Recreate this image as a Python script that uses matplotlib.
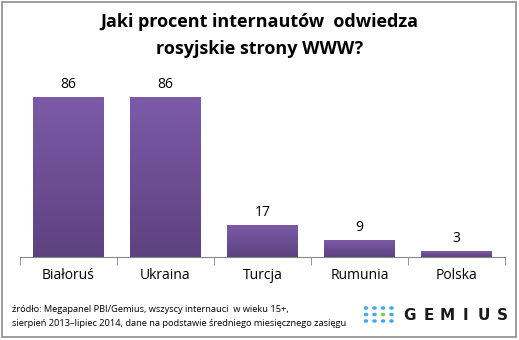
import numpy as np
import matplotlib
matplotlib.use("Agg")
import matplotlib.pyplot as plt
from matplotlib.patches import Rectangle

countries = ["Białoruś", "Ukraina", "Turcja", "Rumunia", "Polska"]
values = [86, 86, 17, 9, 3]

W, H = 519, 340
fig = plt.figure(figsize=(W / 100, H / 100), dpi=100)
plt.rcParams['font.family'] = ['Open Sans', 'DejaVu Sans']

# outer frame
fig.patches.append(Rectangle((2 / W, 3 / H), 514 / W, 335 / H, transform=fig.transFigure,
                             fill=False, edgecolor="#8c8c8c", linewidth=1.2))

ax = fig.add_axes([20 / W, (H - 257) / H, 485 / W, 185 / H])
x = np.arange(len(countries))
bw = 0.73
grad = np.linspace(0, 1, 256).reshape(-1, 1)
cmap = matplotlib.colors.LinearSegmentedColormap.from_list("bar", ["#5d427f", "#7c5aa8"])
for xi, v in zip(x, values):
    bar = ax.bar(xi, v, width=bw, color="none", edgecolor="none")[0]
    ax.imshow(grad, extent=(xi - bw / 2, xi + bw / 2, 0, v), origin="lower",
              cmap=cmap, aspect="auto", zorder=2)
    ax.text(xi, v + 3, str(v), ha="center", va="bottom", fontsize=10, color="#000000")

ax.set_xlim(-0.5, len(countries) - 0.5)
ax.set_ylim(0, 100)
for s in ["top", "right", "left"]:
    ax.spines[s].set_visible(False)
ax.spines["bottom"].set_color("#868686")
ax.set_yticks([])
ax.set_xticks(np.arange(len(countries) + 1) - 0.5, minor=True)
ax.set_xticks(x)
ax.set_xticklabels(countries, fontsize=10)
ax.tick_params(axis="x", which="major", length=0, pad=8)
ax.tick_params(axis="x", which="minor", length=6, color="#868686")
ax.patch.set_alpha(0)

fig.text(0.5, 1 - 22 / H, "Jaki procent internautów  odwiedza", ha="center", va="center",
         fontsize=13, fontweight="bold")
fig.text(0.5, 1 - 49 / H, "rosyjskie strony WWW?", ha="center", va="center",
         fontsize=13, fontweight="bold")

fig.text(12 / W, 1 - 309 / H, "źródło: Megapanel PBI/Gemius, wszyscy internauci  w wieku 15+,",
         ha="left", va="center", fontsize=6.7)
fig.text(12 / W, 1 - 323 / H, "sierpień 2013\u2013lipiec 2014, dane na podstawie średniego miesięcznego zasięgu",
         ha="left", va="center", fontsize=6.7)

# logo dots
for r in range(3):
    for c in range(4):
        col = "#8cc63f" if (r == 1 and c == 2) else "#3fa9f5"
        fig.patches.append(plt.Circle(((366 + c * 8.5) / W, 1 - (308 + r * 6.5) / H), 1.6 / W,
                                      transform=fig.transFigure, color=col))
for i, ch in enumerate("GEMIUS"):
    fig.text((410 + i * 18.5) / W, 1 - 315 / H, ch, ha="center", va="center", fontsize=11,
             color="#1a1a1a", family="DejaVu Sans", fontweight="bold")

fig.savefig("out.png", dpi=100)
